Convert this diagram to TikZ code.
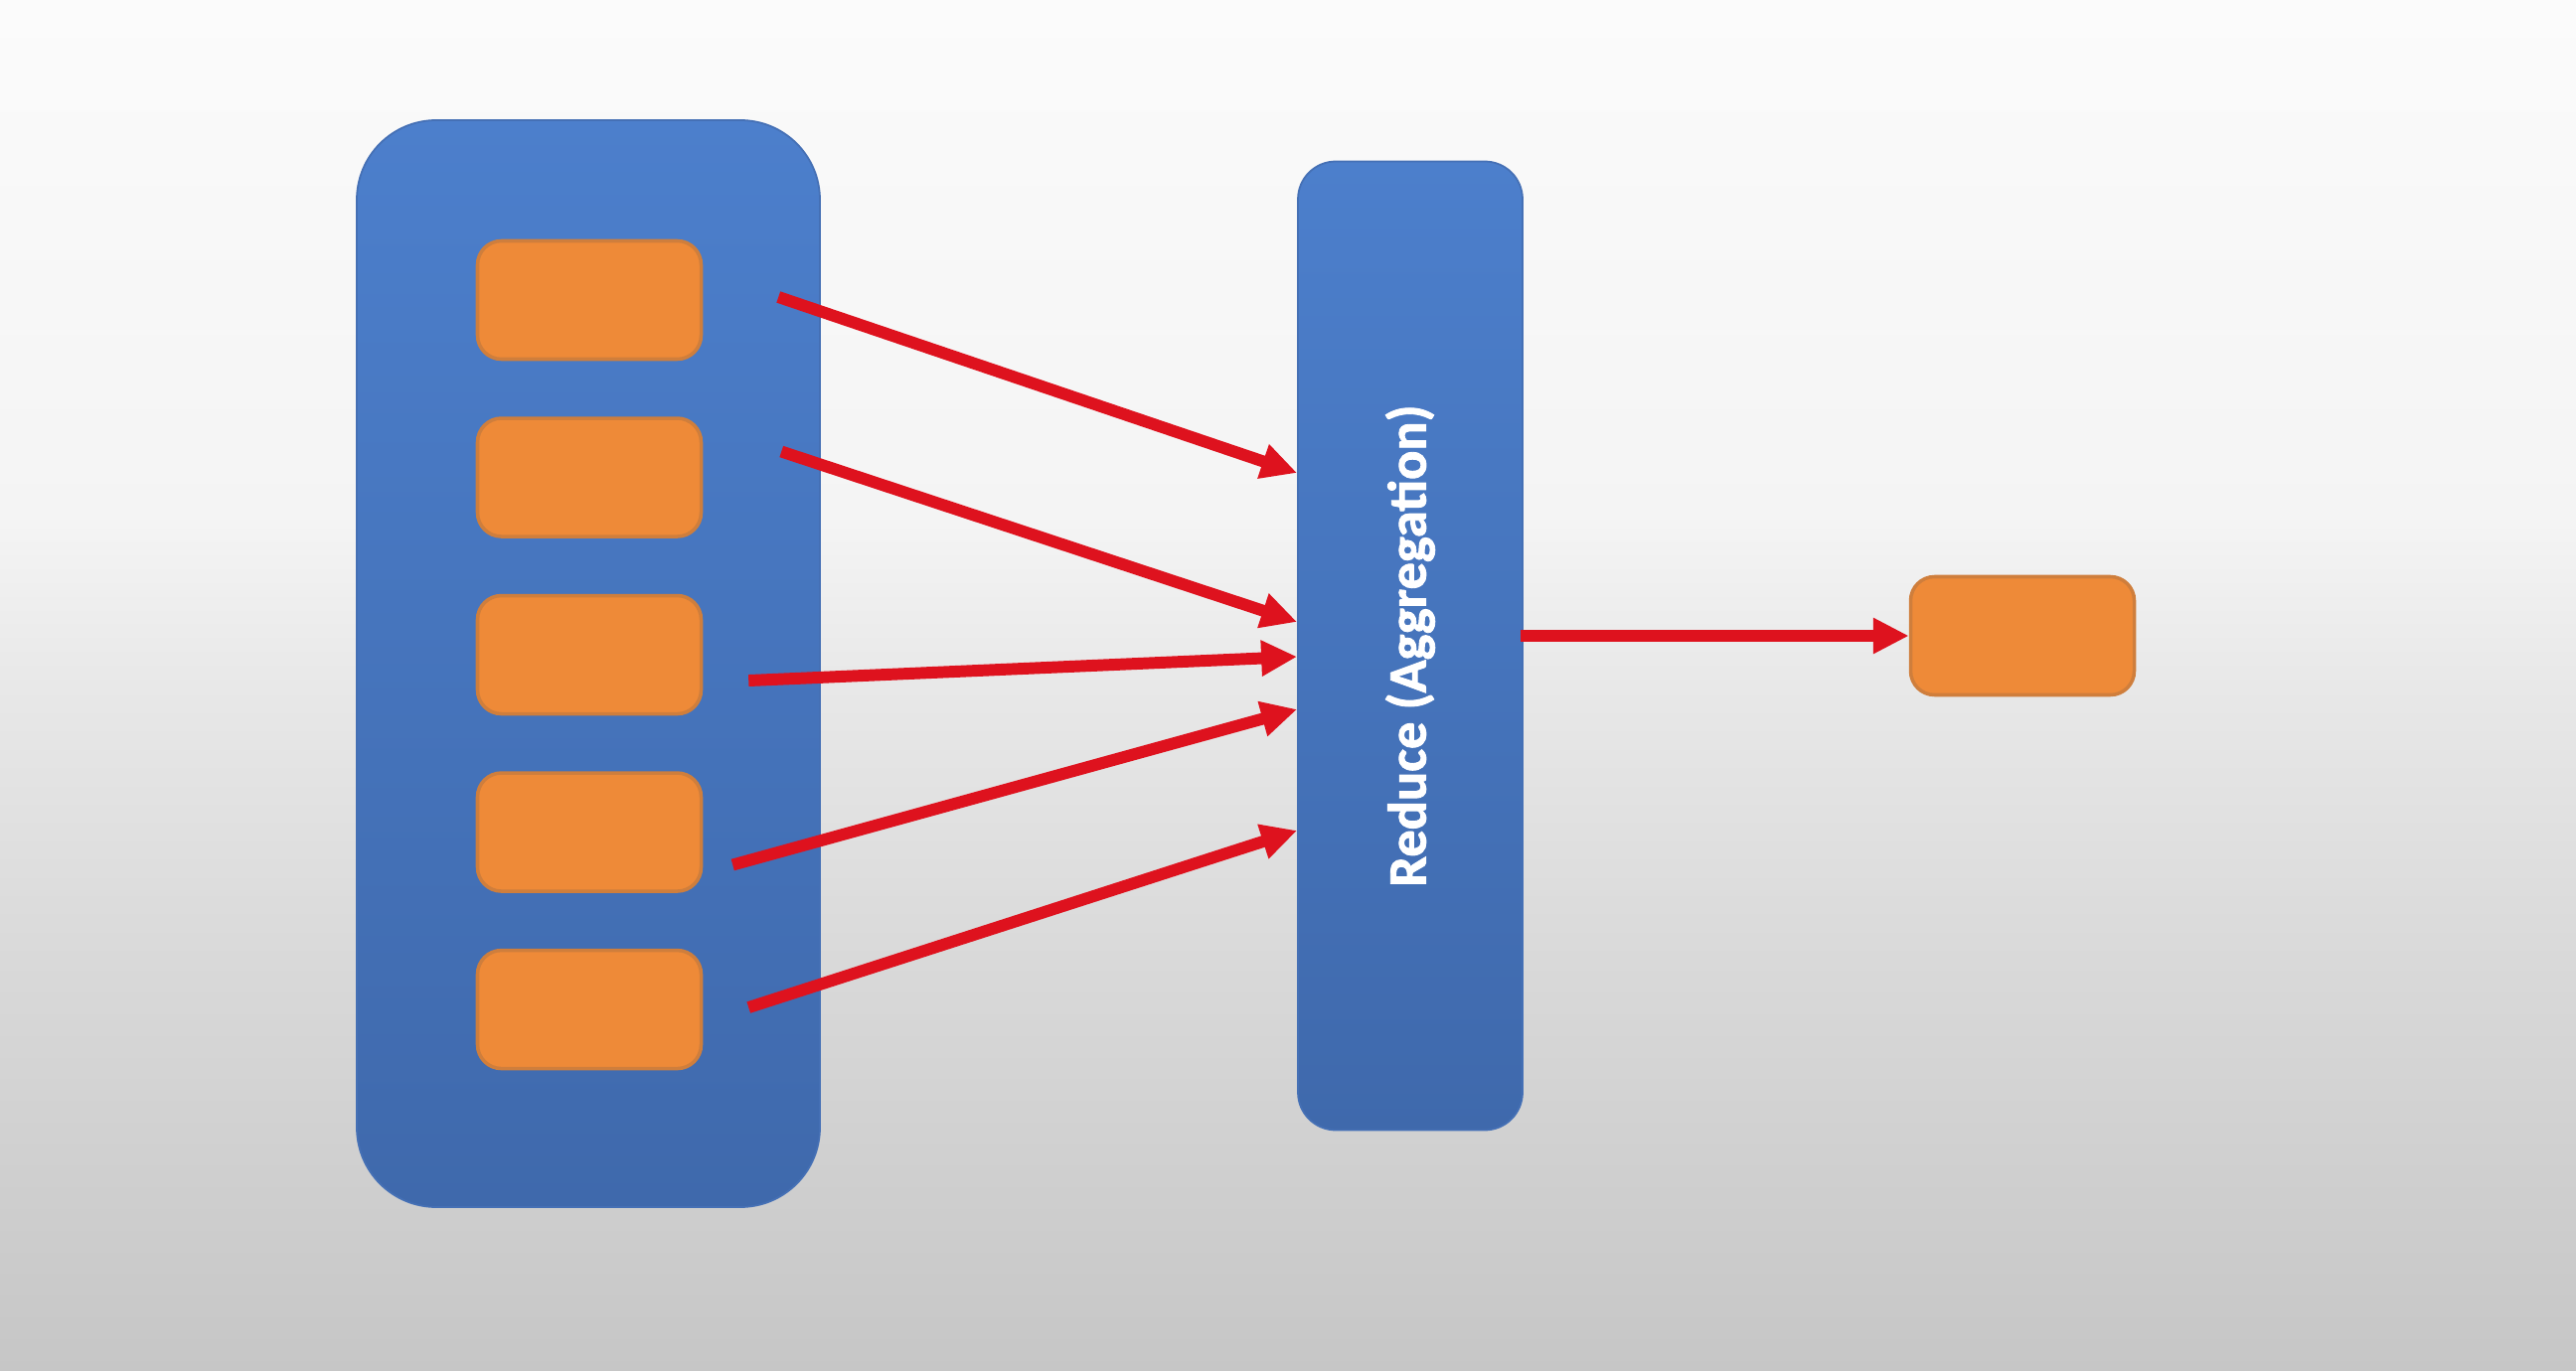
\documentclass[tikz,border=0pt]{standalone}
\usepackage{fontspec}
\newfontfamily\slidefont{Carlito}[BoldFeatures={FakeBold=1.6}]
\usetikzlibrary{arrows.meta,positioning}

\definecolor{bgtop}{HTML}{FBFBFB}
\definecolor{bgpale}{HTML}{F4F4F4}
\definecolor{bglight}{HTML}{E8E8E8}
\definecolor{bgmid}{HTML}{D9D9D9}
\definecolor{bgbot}{HTML}{C6C6C6}
\definecolor{bluetop}{HTML}{4C7FCC}
\definecolor{bluebot}{HTML}{3F69AC}
\definecolor{blueedge}{HTML}{4570B5}
\definecolor{taskorange}{HTML}{EE8A38}
\definecolor{orangeedge}{HTML}{CF7E3C}
\definecolor{arrowred}{HTML}{DE121E}

\pgfdeclareverticalshading{slidebg}{100bp}{color(0bp)=(bgbot); color(25bp)=(bgbot); color(40bp)=(bgmid); color(50bp)=(bglight); color(56bp)=(bgpale); color(75bp)=(bgtop); color(100bp)=(bgtop)}

\begin{document}
\begin{tikzpicture}[
		node distance=0.56cm,
		box/.style = {draw=orangeedge, line width=1pt, fill=taskorange, rounded corners=0.24cm, minimum width=2.25cm, minimum height=1.19cm},
		panel/.style = {draw=blueedge, line width=0.5pt, top color=bluetop, bottom color=bluebot},
		line/.style = {-{Triangle[length=0.36cm, width=0.34cm]}, line width=3.4pt, draw=arrowred}
		]
		
		\shade[shading=slidebg] (0,0) rectangle (25.92,-13.80);
		\useasboundingbox (0,0) rectangle (25.92,-13.80);
		
		\node[panel, rounded corners=0.8cm, minimum width=4.66cm, minimum height=10.94cm] (mapper) at (5.92,-6.68) {};
		\node[box] (task1) at (5.93,-3.02) {};
		\node[box, below=of task1] (task2) {};
		\node[box, below=of task2] (task3) {};
		\node[box, below=of task3] (task4) {};
		\node[box, below=of task4] (task5) {};
		\node[panel, rounded corners=0.38cm, minimum width=2.26cm, minimum height=9.75cm, text=white, font=\slidefont\bfseries\fontsize{15.5}{18}\selectfont] (reduce) at (14.19,-6.50) {\rotatebox{90}{Reduce (Aggregation)}};
		\node[box] (result) at (20.35,-6.40) {};
		
		\draw[line] ([shift={(0.76,0.03)}]task1.east) -- ([yshift=1.74cm]reduce.west);
		\draw[line] ([shift={(0.79,0.26)}]task2.east) -- ([yshift=0.24cm]reduce.west);
		\draw[line] ([shift={(0.46,-0.26)}]task3.east) -- ([yshift=-0.11cm]reduce.west);
		\draw[line] ([shift={(0.30,-0.33)}]task4.east) -- ([yshift=-0.64cm]reduce.west);
		\draw[line] ([shift={(0.46,0.02)}]task5.east) -- ([yshift=-1.86cm]reduce.west);
		\draw[line] ([xshift=-0.03cm]reduce.east |- result.west) -- (result.west);
	\end{tikzpicture}
\end{document}
